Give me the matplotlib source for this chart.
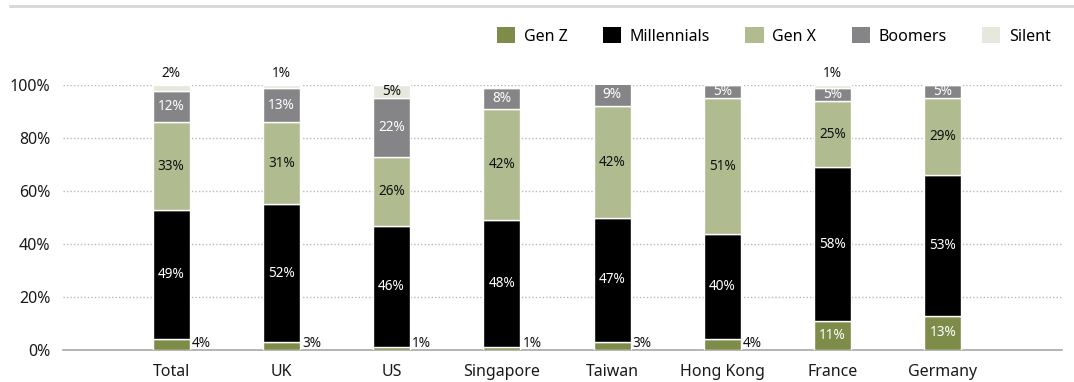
import numpy as np
import matplotlib
matplotlib.use("Agg")
from matplotlib import pyplot as plt
from matplotlib.patches import Patch

plt.rcParams['font.family'] = ['Noto Sans', 'DejaVu Sans']

# Share of each generation per market (percent)
markets = ['Total', 'UK', 'US', 'Singapore', 'Taiwan', 'Hong Kong', 'France', 'Germany']
gen_z = [4, 3, 1, 1, 3, 4, 11, 13]
millennials = [49, 52, 46, 48, 47, 40, 58, 53]
gen_x = [33, 31, 26, 42, 42, 51, 25, 29]
boomers = [12, 13, 22, 8, 9, 5, 5, 5]
silent = [2, 1, 5, 0, 0, 0, 1, 0]

generations = ['Gen Z', 'Millennials', 'Gen X', 'Boomers', 'Silent']
colors = ['#7e8c4a', '#000000', '#b0bb90', '#858587', '#e5e8dc']
text_colors = ['white', 'white', '#111111', 'white', '#111111']
series = [gen_z, millennials, gen_x, boomers, silent]

fig = plt.figure(figsize=(10.74, 3.82), dpi=100)
ax = fig.add_axes([0.0587, 0.0838, 0.93, 0.693])

x = np.arange(len(markets))
width = 0.335
bottom = np.zeros(len(markets))
lab_size = 9.8

for gi, (name, vals, col, tcol) in enumerate(zip(generations, series, colors, text_colors)):
    vals = np.array(vals, dtype=float)
    ax.bar(x, vals, width, bottom=bottom, color=col, edgecolor='white',
           linewidth=1, zorder=3)
    for i, v in enumerate(vals):
        if v == 0:
            continue
        mid = bottom[i] + v / 2
        if gi == 0 and v < 5:
            # small Gen Z shares go next to the bar
            ax.text(x[i] + width / 2 + 0.02, max(mid, 2.4), f'{v:.0f}%',
                    ha='left', va='center', fontsize=lab_size, color='#111111', zorder=4)
        elif gi == 4 and v < 5:
            # small Silent shares go above the bar
            ax.text(x[i], bottom[i] + v + 1.6, f'{v:.0f}%', ha='center',
                    va='bottom', fontsize=lab_size, color='#111111', zorder=4)
        else:
            ax.text(x[i], mid, f'{v:.0f}%', ha='center', va='center',
                    fontsize=lab_size, color=tcol, zorder=4)
    bottom += vals

ax.set_xlim(-0.98, 8.08)
ax.set_ylim(0, 100)
ax.set_yticks([0, 20, 40, 60, 80, 100])
ax.set_yticklabels([f'{t}%' for t in [0, 20, 40, 60, 80, 100]], fontsize=11.5,
                   color='#1a1a1a')
ax.set_xticks(x)
ax.set_xticklabels(markets, fontsize=11.5, color='#1a1a1a')
ax.tick_params(axis='both', length=0)
ax.tick_params(axis='x', pad=10)
ax.tick_params(axis='y', pad=9)

for y in [20, 40, 60, 80, 100]:
    ax.axhline(y, color='#b8b8b8', linewidth=1, linestyle=(0, (1, 1.5)), zorder=1)
for s in ['top', 'right', 'left']:
    ax.spines[s].set_visible(False)
ax.spines['bottom'].set_color('#a8a8a8')
ax.spines['bottom'].set_linewidth(1.2)

# thin rule across the top
fig.add_artist(plt.Line2D([0.009, 1.0], [0.985, 0.985], color='#d6d6d6',
                          linewidth=2, transform=fig.transFigure))

handles = [Patch(facecolor=c, edgecolor='none') for c in colors]
fig.legend(handles, generations, loc='center right',
           bbox_to_anchor=(0.992, 1 - 36 / 382), ncol=5, frameon=False,
           fontsize=11.5, handlelength=1.15, handleheight=1.15,
           handletextpad=0.55, columnspacing=2.2)

fig.savefig('out.png', dpi=100)
